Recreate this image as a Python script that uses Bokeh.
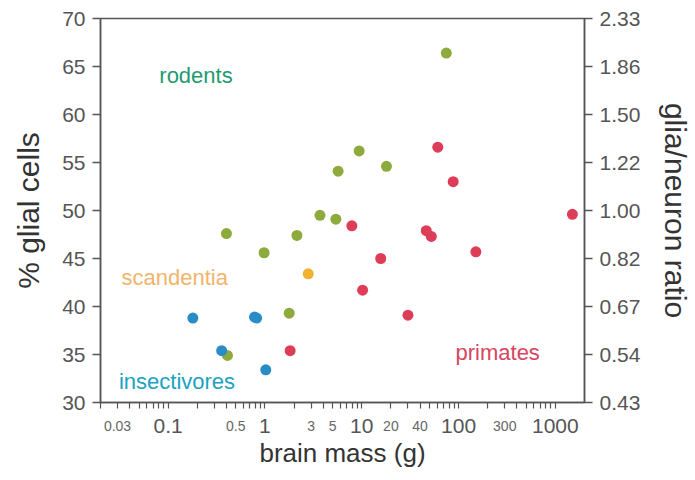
from bokeh.plotting import figure
from bokeh.models import (Range1d, LinearAxis, LogAxis, FixedTicker, ColumnDataSource)
from bokeh.embed import file_html
from bokeh.resources import INLINE
from bokeh.core.properties import value

# ---- data (brain mass in g, % glial cells) ----
rodent_mass = [74.7, 9.4, 5.7, 18.0, 3.7, 5.4, 0.40, 2.14, 0.98, 1.78, 0.41]
rodent_glia = [66.4, 56.2, 54.1, 54.6, 49.5, 49.1, 47.6, 47.4, 45.6, 39.3, 34.9]

primate_mass = [61.0, 88.0, 7.9, 46.4, 52.3, 1500.0, 15.7, 151.0, 10.2, 30.0, 1.82]
primate_glia = [56.6, 53.0, 48.4, 47.9, 47.3, 49.6, 45.0, 45.7, 41.7, 39.1, 35.4]

insect_mass = [0.18, 0.78, 0.82, 0.357, 1.02]
insect_glia = [38.8, 38.9, 38.8, 35.4, 33.4]

scand_mass = [2.8]
scand_glia = [43.4]

# tick values and labels
x_major = [0.1, 1, 10, 100, 1000]
x_major_labels = ["0.1", "1", "10", "100", "1000"]
x_minor_labeled = [0.03, 0.5, 3, 5, 20, 40, 300]
x_minor_labels = ["0.03", "0.5", "3", "5", "20", "40", "300"]
x_all_ticks = [round(m * d, 4) for d in [0.01, 0.1, 1, 10, 100] for m in range(2, 11)
               if 0.02 <= m * d <= 2000]
y_ticks = [30, 35, 40, 45, 50, 55, 60, 65, 70]
ratio_labels = ["0.43", "0.54", "0.67", "0.82", "1.00", "1.22", "1.50", "1.86", "2.33"]

group_names = ["rodents", "scandentia", "insectivores", "primates"]
group_label_x = [0.081, 0.033, 0.031, 93.0]
group_label_y = [64.1, 43.0, 32.2, 35.2]

FONT = "Liberation Sans"
dot_colors = {"rodents": "#8eaa3c", "primates": "#de3d58",
              "insectivores": "#2a8cc6", "scandentia": "#f1b232"}
text_colors = ["#1f9a72", "#f2b46c", "#1ba2c2", "#d8455f"]

p = figure(width=695, height=478, x_axis_type="log",
           x_range=Range1d(0.02, 2000), y_range=Range1d(30, 70),
           output_backend="svg", toolbar_location=None,
           min_border_left=100, min_border_right=110,
           min_border_top=18, min_border_bottom=76)
p.grid.visible = False
p.outline_line_color = "#555555"
p.outline_line_width = 1.5

# left axis
ya = p.yaxis[0]
ya.ticker = FixedTicker(ticks=y_ticks)
ya.axis_label = "% glial cells"

# bottom axis A: all tick marks + small labels
xa = p.xaxis[0]
small_map = {v: l for v, l in zip(x_minor_labeled, x_minor_labels)}
xa.ticker = FixedTicker(ticks=x_all_ticks, minor_ticks=[])
xa.major_label_overrides = {v: small_map.get(v, "") for v in x_all_ticks}

# bottom axis B: decade labels + axis title
xb = LogAxis(ticker=FixedTicker(ticks=x_major, minor_ticks=[]),
             major_label_overrides={v: l for v, l in zip(x_major, x_major_labels)},
             axis_label="brain mass (g)")
p.add_layout(xb, "below")

# right axis
ra = LinearAxis(ticker=FixedTicker(ticks=y_ticks),
                major_label_overrides={t: l for t, l in zip(y_ticks, ratio_labels)},
                axis_label="glia/neuron ratio")
p.add_layout(ra, "right")

for ax in [ya, xa, xb, ra]:
    ax.axis_line_color = "#555555"
    ax.axis_line_width = 1.5
    ax.major_tick_line_color = "#555555"
    ax.major_tick_line_width = 1.5
    ax.minor_tick_line_color = None
    ax.major_tick_in = 0
    ax.minor_tick_in = 0
    ax.major_label_text_font = FONT
    ax.major_label_text_font_size = "21px"
    ax.major_label_text_color = "#555555"
    ax.axis_label_text_font = FONT
    ax.axis_label_text_font_style = "normal"
    ax.axis_label_text_color = "#333333"
ya.major_tick_out = 8
ra.major_tick_out = 8
ya.major_label_standoff = 7
ra.major_label_standoff = 7
ya.axis_label_text_font_size = "30px"
ra.axis_label_text_font_size = "30px"
ya.axis_label_standoff = 14
ra.axis_label_standoff = 16

xa.major_tick_out = 6
xa.major_tick_line_width = 1.2
xa.major_label_text_font_size = "14px"
xa.major_label_text_color = "#666666"
xa.major_label_standoff = 12

xb.axis_line_color = None
xb.major_tick_line_color = None
xb.major_tick_out = 0
xb.major_label_standoff = -15
xb.axis_label_text_font_size = "26px"
xb.axis_label_standoff = 2

# points
for name, mx, gy in [("rodents", rodent_mass, rodent_glia),
                     ("primates", primate_mass, primate_glia),
                     ("insectivores", insect_mass, insect_glia),
                     ("scandentia", scand_mass, scand_glia)]:
    src = ColumnDataSource(dict(x=mx, y=gy))
    p.scatter("x", "y", source=src, size=11, fill_color=dot_colors[name],
              line_color=None)

# group labels
lab = ColumnDataSource(dict(x=group_label_x, y=group_label_y, t=group_names, c=text_colors))
p.text("x", "y", text="t", source=lab, text_color="c", text_font=value(FONT),
       text_font_size="22px", text_baseline="middle", text_align="left")

open("out.html", "w").write(file_html(p, INLINE))
